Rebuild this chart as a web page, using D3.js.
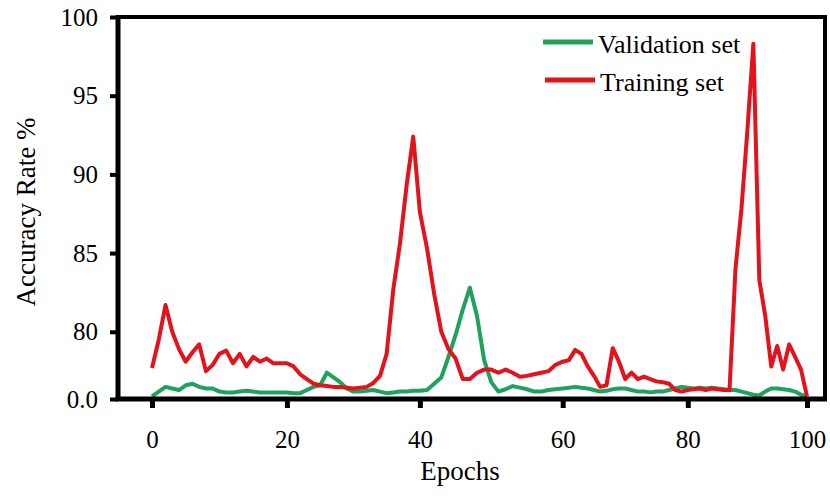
<!DOCTYPE html>
<html>
<head>
<meta charset="utf-8">
<script src="https://cdn.jsdelivr.net/npm/d3@7"></script>
<style>
  html, body { margin: 0; padding: 0; background: #fff; }
  svg { display: block; }
</style>
</head>
<body>
<div id="chart"></div>
<script>
// Data (one value per epoch, 0..100)
const EPOCHS = d3.range(0, 101);

const TRAINING = [
  77.7, 79.5, 81.7, 80.0, 78.9, 78.1, 78.7, 79.2, 77.5, 77.9,
  78.6, 78.8, 78.0, 78.6, 77.8, 78.4, 78.1, 78.3, 78.0, 78.0,
  78.0, 77.8, 77.3, 77.0, 76.7, 76.6, 76.55, 76.5, 76.5, 76.45,
  76.4, 76.45, 76.5, 76.75, 77.2, 78.6, 82.7, 85.6, 89.3, 92.4,
  87.6, 85.3, 82.4, 80.0, 78.9, 78.3, 77.0, 77.0, 77.4, 77.6,
  77.6, 77.4, 77.6, 77.4, 77.15, 77.2, 77.3, 77.4, 77.5, 77.9,
  78.1, 78.2, 78.85, 78.6, 77.8, 77.2, 76.5, 76.6, 78.96, 78.1,
  77.0, 77.4, 77.0, 77.15, 77.0, 76.85, 76.8, 76.7, 76.3, 76.2,
  76.3, 76.35, 76.4, 76.3, 76.4, 76.35, 76.3, 76.3, 84.0, 87.8,
  92.8, 98.3, 83.3, 81.0, 77.8, 79.1, 77.6, 79.2, 78.4, 77.6,
  75.9
];

const VALIDATION = [
  75.9, 76.2, 76.5, 76.4, 76.3, 76.6, 76.7, 76.5, 76.4, 76.4,
  76.2, 76.15, 76.15, 76.2, 76.25, 76.2, 76.15, 76.15, 76.15, 76.15,
  76.15, 76.1, 76.1, 76.3, 76.5, 76.6, 77.4, 77.1, 76.8, 76.4,
  76.2, 76.2, 76.25, 76.3, 76.2, 76.1, 76.15, 76.2, 76.2, 76.25,
  76.25, 76.3, 76.7, 77.1, 78.4, 79.8, 81.4, 82.8, 81.0, 78.2,
  76.8, 76.2, 76.35, 76.55, 76.45, 76.35, 76.2, 76.2, 76.3, 76.35,
  76.4, 76.45, 76.5, 76.45, 76.4, 76.3, 76.2, 76.25, 76.35, 76.4,
  76.4, 76.3, 76.2, 76.2, 76.15, 76.2, 76.2, 76.3, 76.4, 76.5,
  76.45, 76.4, 76.45, 76.4, 76.45, 76.4, 76.35, 76.3, 76.3, 76.2,
  76.1, 76.0, 75.95, 76.2, 76.4, 76.4, 76.35, 76.3, 76.2, 76.0,
  75.9
];

const SERIES_NAMES = ["Validation set", "Training set"];
const SERIES_COLORS = ["#1fa35c", "#e3121b"];

const X_TICKS = [0, 20, 40, 60, 80, 100];
// the bottom of the y axis is a broken axis labelled "0.0"
const Y_BOTTOM = 75.73;
const Y_TICKS = [Y_BOTTOM, 80, 85, 90, 95, 100];
const Y_TICK_LABELS = ["0.0", "80", "85", "90", "95", "100"];

const W = 830, H = 498;
const FONT = "'Liberation Serif', 'Times New Roman', serif";

const frame = { left: 118, right: 825, top: 17, bottom: 399 };
const plotX0 = 152, plotX1 = 807;

// The original x ticks are not evenly spaced, so use a piecewise scale
const xStops = [0, 0.206, 0.409, 0.627, 0.818, 1];
const x = d3.scaleLinear()
  .domain(X_TICKS)
  .range(xStops.map(f => plotX0 + f * (plotX1 - plotX0)));

const y = d3.scaleLinear()
  .domain([Y_BOTTOM, 100])
  .range([frame.bottom, frame.top]);

const svg = d3.select("#chart").append("svg")
  .attr("width", W)
  .attr("height", H)
  .style("font-family", FONT);

svg.append("rect").attr("width", W).attr("height", H).attr("fill", "#fff");

// Lines
const line = d3.line()
  .x((d, i) => x(EPOCHS[i]))
  .y(d => y(d));

[VALIDATION, TRAINING].forEach((vals, k) => {
  svg.append("path")
    .datum(vals)
    .attr("fill", "none")
    .attr("stroke", SERIES_COLORS[k])
    .attr("stroke-width", 4)
    .attr("stroke-linejoin", "round")
    .attr("d", line);
});

// Frame: thin top/right, heavy left/bottom axes
svg.append("line")
  .attr("x1", frame.left).attr("x2", frame.right)
  .attr("y1", frame.top).attr("y2", frame.top)
  .attr("stroke", "#000").attr("stroke-width", 4);
svg.append("line")
  .attr("x1", frame.right).attr("x2", frame.right)
  .attr("y1", frame.top - 2).attr("y2", frame.bottom)
  .attr("stroke", "#000").attr("stroke-width", 4);

// Y axis
svg.append("g")
  .attr("transform", `translate(${frame.left},0)`)
  .call(d3.axisLeft(y)
    .tickValues(Y_TICKS)
    .tickFormat((d, i) => Y_TICK_LABELS[i])
    .tickSize(8)
    .tickPadding(12))
  .call(ax => ax.select(".domain")
    .attr("d", `M0,${frame.top - 2}V${frame.bottom + 2}`)
    .attr("stroke", "#000").attr("stroke-width", 5))
  .call(ax => ax.selectAll(".tick line").attr("stroke", "#000").attr("stroke-width", 4))
  .call(ax => ax.selectAll("text")
    .attr("font-size", 25)
    .attr("font-family", FONT)
    .attr("fill", "#000"));

// X axis
svg.append("g")
  .attr("transform", `translate(0,${frame.bottom})`)
  .call(d3.axisBottom(x)
    .tickValues(X_TICKS)
    .tickFormat(d3.format("d"))
    .tickSize(9)
    .tickPadding(22))
  .call(ax => ax.select(".domain")
    .attr("d", `M${frame.left - 2.5},0H${frame.right + 2}`)
    .attr("stroke", "#000").attr("stroke-width", 5))
  .call(ax => ax.selectAll(".tick line").attr("stroke", "#000").attr("stroke-width", 5))
  .call(ax => ax.selectAll("text")
    .attr("font-size", 25)
    .attr("font-family", FONT)
    .attr("fill", "#000"));

// Axis titles
svg.append("text")
  .attr("x", 460)
  .attr("y", 480)
  .attr("text-anchor", "middle")
  .attr("font-size", 27)
  .attr("fill", "#000")
  .text("Epochs");

svg.append("text")
  .attr("transform", "rotate(-90)")
  .attr("x", -212)
  .attr("y", 35)
  .attr("text-anchor", "middle")
  .attr("font-size", 27)
  .attr("fill", "#000")
  .text("Accuracy Rate %");

// Legend
const legend = svg.append("g").attr("transform", "translate(543,42)");
SERIES_NAMES.forEach((name, i) => {
  const row = legend.append("g").attr("transform", `translate(${i * 2},${i * 38})`);
  row.append("line")
    .attr("x1", 0).attr("x2", 50)
    .attr("stroke", SERIES_COLORS[i])
    .attr("stroke-width", 5);
  row.append("text")
    .attr("x", 55)
    .attr("y", 11)
    .attr("font-size", 26)
    .attr("fill", "#000")
    .text(name);
});
</script>
</body>
</html>
